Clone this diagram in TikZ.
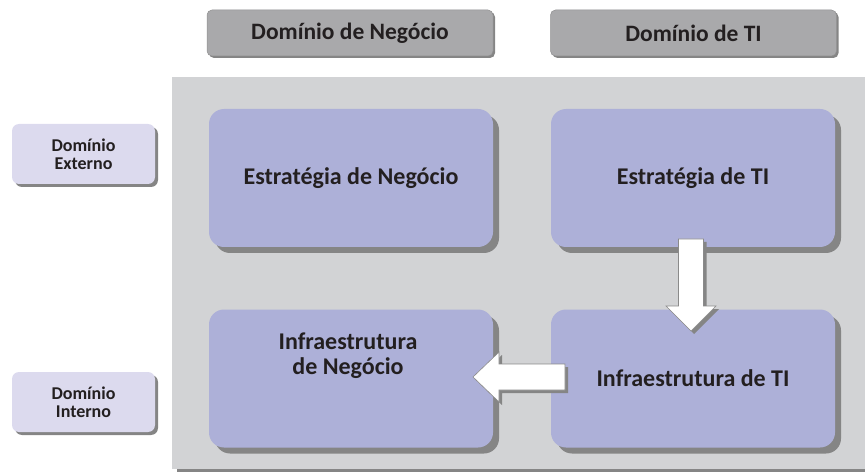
\documentclass[tikz,border=0pt]{standalone}
\usepackage{fontspec}
\setmainfont{Carlito}
\usetikzlibrary{shadows}
\definecolor{panelc}{HTML}{D2D3D5}
\definecolor{boxc}{HTML}{ADB0D8}
\definecolor{shadc}{HTML}{858585}
\definecolor{headc}{HTML}{A9A9AB}
\definecolor{sidec}{HTML}{DCDAEE}
\definecolor{txtc}{HTML}{231F20}
\definecolor{arrline}{HTML}{8A8A8A}
\begin{document}
\begin{tikzpicture}[x=1pt,y=-1pt,
  mainbox/.style={rectangle, rounded corners=15pt, fill=boxc, minimum width=284pt, minimum height=138pt, inner sep=0pt,
    drop shadow={shadow xshift=6pt, shadow yshift=-6pt, opacity=1, fill=shadc},
    font=\bfseries\fontsize{24}{26}\selectfont, text=txtc, align=center},
  headbox/.style={rectangle, rounded corners=5pt, fill=headc, draw=headc!85!black, line width=0.5pt, minimum width=286pt, minimum height=46pt, inner sep=0pt,
    drop shadow={shadow xshift=2pt, shadow yshift=-2pt, opacity=1, fill=shadc},
    font=\bfseries\fontsize{23.5}{26}\selectfont, text=txtc},
  sidebox/.style={rectangle, rounded corners=7pt, fill=sidec, minimum width=143pt, minimum height=60pt, inner sep=0pt,
    drop shadow={shadow xshift=3pt, shadow yshift=-3pt, opacity=1, fill=shadc},
    font=\bfseries\fontsize{18}{18}\selectfont, text=txtc, align=center},
  blockarrow/.style={fill=white, draw=arrline, line width=0.6pt,
    drop shadow={shadow xshift=3pt, shadow yshift=-3pt, opacity=1, fill=shadc}}
]
\useasboundingbox (0,0) rectangle (865,473);
% panel
\fill[shadc] (177,472) rectangle (870,466);
\fill[panelc] (172,77) rectangle (870,469);
% headers
\node[headbox] (hn) at (350,33) {Domínio de Negócio};
\node[headbox] (ht) at (693.5,33) {Domínio de TI};
% side boxes
\node[sidebox] (ext) at (83.5,154) {Domínio\\Externo};
\node[sidebox] (int) at (83.5,402) {Domínio\\Interno};
% main boxes
\node[mainbox] (bs) at (351,178) {Estratégia de Negócio};
\node[mainbox] (ts) at (693,178) {Estratégia de TI};
\node[mainbox] (bi) at (351,378.5) {};
\node[mainbox] (ti) at (693,378.5) {Infraestrutura de TI};
\node[font=\bfseries\fontsize{24}{25}\selectfont, text=txtc, align=center] (bil) at (348,356) {Infraestrutura\\de Negócio};
% block arrows: from Estratégia de TI down to Infraestrutura de TI, and from Infraestrutura de TI left to Infraestrutura de Negócio
\draw[blockarrow] (678.5,239) -- (703.5,239) -- (703.5,306) -- (716,306) -- (691,331) -- (666,306) -- (678.5,306) -- cycle;
\draw[blockarrow] (565,364) -- (565,390) -- (499,390) -- (499,402) -- (473,377) -- (499,352) -- (499,364) -- cycle;
\end{tikzpicture}
\end{document}
